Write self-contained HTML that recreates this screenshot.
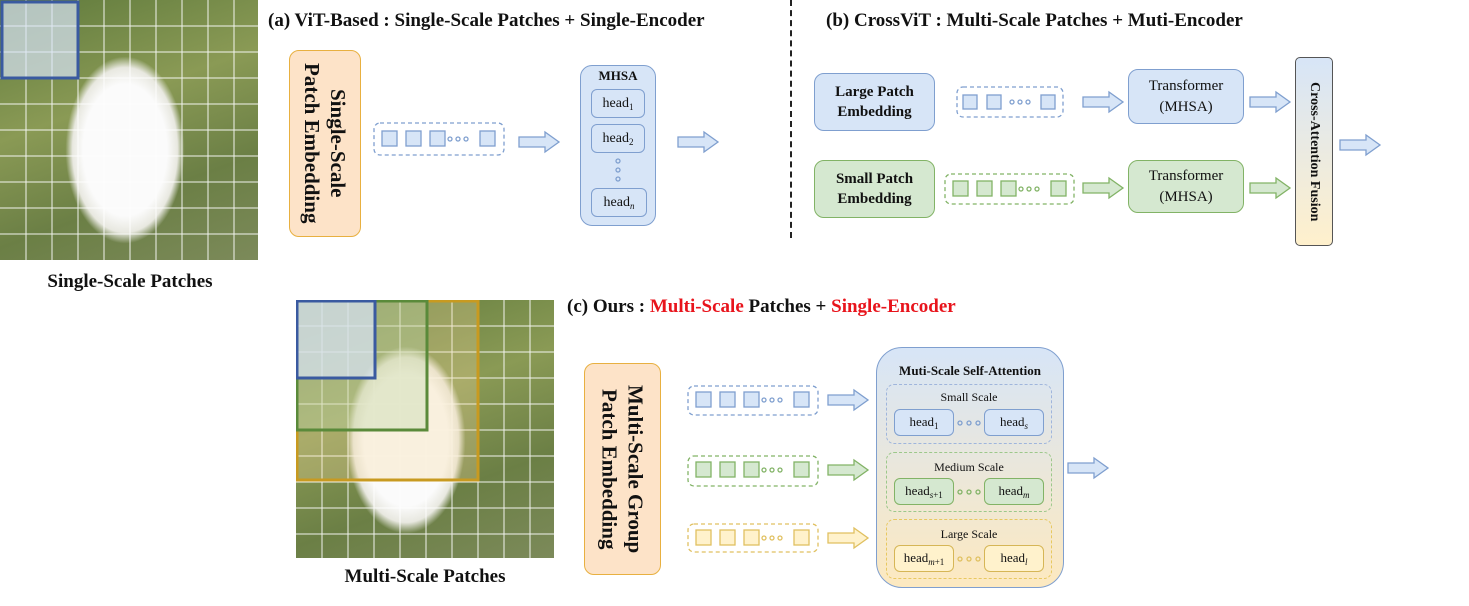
<!DOCTYPE html>
<html><head><meta charset="utf-8"><style>
body{margin:0;width:1469px;height:606px;background:#fff;position:relative;overflow:hidden;font-family:"Liberation Serif",serif;color:#111}
.a{position:absolute;box-sizing:border-box}
.t{font-weight:bold;font-size:19px;white-space:nowrap}
.bx{border-radius:10px;display:flex;align-items:center;justify-content:center;text-align:center}
.vt{writing-mode:vertical-rl;font-weight:bold;font-size:21px;line-height:26px}
.h{border-radius:6px;display:flex;align-items:center;justify-content:center;font-size:14px}
.h sub{font-size:9px;vertical-align:-3px}
.lab{font-size:12px;text-align:center}
</style></head><body>

<div class="a" style="left:0;top:0;width:258px;height:260px;background:radial-gradient(ellipse 70px 110px at 125px 150px,#fbfbfb 60%,#e8e8e0 75%,rgba(0,0,0,0) 85%),linear-gradient(160deg,#5f7a3c,#8a9a55 40%,#6b7f45 70%,#7c8a5a)"></div>
<svg class="a" style="left:0;top:0" width="258" height="260">
<g stroke="#fff" stroke-width="1" opacity=".9">
<path d="M26 0V260M52 0V260M78 0V260M104 0V260M130 0V260M156 0V260M182 0V260M208 0V260M234 0V260M0 26H258M0 52H258M0 78H258M0 104H258M0 130H258M0 156H258M0 182H258M0 208H258M0 234H258"/></g>
<rect x="2" y="2" width="76" height="76" fill="#d8e4f6" fill-opacity=".7" stroke="#3a5aa0" stroke-width="3"/>
</svg>
<div class="a t" style="left:0;width:260px;top:271px;text-align:center">Single-Scale Patches</div>

<div class="a" style="left:296px;top:300px;width:258px;height:258px;background:radial-gradient(ellipse 70px 110px at 110px 140px,#fbfbfb 60%,#e8e8e0 75%,rgba(0,0,0,0) 85%),linear-gradient(160deg,#5f7a3c,#8a9a55 40%,#6b7f45 70%,#7c8a5a)"></div>
<svg class="a" style="left:296px;top:300px" width="258" height="258">
<g stroke="#fff" stroke-width="1" opacity=".9">
<path d="M26 0V258M52 0V258M78 0V258M104 0V258M130 0V258M156 0V258M182 0V258M208 0V258M234 0V258M0 26H258M0 52H258M0 78H258M0 104H258M0 130H258M0 156H258M0 182H258M0 208H258M0 234H258"/></g>
<rect x="1" y="1" width="181" height="179" fill="#f5d89a" fill-opacity=".3" stroke="#c89a20" stroke-width="3"/>
<rect x="1" y="1" width="130" height="129" fill="#b9d8a8" fill-opacity=".35" stroke="#5a8a3a" stroke-width="3"/>
<rect x="1" y="1" width="78" height="77" fill="#d8e4f6" fill-opacity=".7" stroke="#3a5aa0" stroke-width="3"/>
</svg>
<div class="a t" style="left:296px;width:258px;top:566px;text-align:center">Multi-Scale Patches</div>

<div class="a t" style="left:268px;top:10px">(a) ViT-Based : Single-Scale Patches + Single-Encoder</div>
<div class="a t" style="left:826px;top:10px">(b) CrossViT : Multi-Scale Patches + Muti-Encoder</div>
<div class="a t" style="left:567px;top:296px">(c) Ours : <span style="color:#e8141c">Multi-Scale</span> Patches + <span style="color:#e8141c">Single-Encoder</span></div>
<div class="a" style="left:790px;top:0;height:238px;border-left:2px dashed #222"></div>

<div class="a bx" style="left:289px;top:50px;width:72px;height:187px;background:#fde3c8;border:1.5px solid #e8b040"><div class="vt">Single-Scale<br>Patch Embedding</div></div>
<div class="a bx" style="left:580px;top:65px;width:76px;height:161px;background:#d7e5f7;border:1.5px solid #7f9fcf;border-radius:12px"></div>
<div class="a" style="left:580px;top:68px;width:76px;text-align:center;font-weight:bold;font-size:13px">MHSA</div>
<div class="a h" style="left:591px;top:89px;width:54px;height:29px;border:1.5px solid #7f9fcf"><span>head<sub>1</sub></span></div>
<div class="a h" style="left:591px;top:124px;width:54px;height:29px;border:1.5px solid #7f9fcf"><span>head<sub>2</sub></span></div>
<div class="a h" style="left:591px;top:188px;width:56px;height:29px;border:1.5px solid #7f9fcf"><span>head<sub><i>n</i></sub></span></div>

<div class="a bx" style="left:814px;top:73px;width:121px;height:58px;background:#d7e5f7;border:1.5px solid #7f9fcf;font-weight:bold;font-size:15px;line-height:20px">Large Patch<br>Embedding</div>
<div class="a bx" style="left:814px;top:160px;width:121px;height:58px;background:#d5e8d0;border:1.5px solid #82b366;font-weight:bold;font-size:15px;line-height:20px">Small Patch<br>Embedding</div>
<div class="a bx" style="left:1128px;top:69px;width:116px;height:55px;background:#d7e5f7;border:1.5px solid #7f9fcf;font-size:15px;line-height:21px">Transformer<br>(MHSA)</div>
<div class="a bx" style="left:1128px;top:160px;width:116px;height:53px;background:#d5e8d0;border:1.5px solid #82b366;font-size:15px;line-height:21px">Transformer<br>(MHSA)</div>
<div class="a bx" style="left:1295px;top:57px;width:38px;height:189px;background:linear-gradient(#d7e5f7,#fff0cc);border:1.5px solid #555;border-radius:5px"><div class="vt" style="font-size:14px">Cross-Attention Fusion</div></div>

<div class="a bx" style="left:584px;top:363px;width:77px;height:212px;background:#fde3c8;border:1.5px solid #e8b040"><div class="vt">Multi-Scale Group<br>Patch Embedding</div></div>
<div class="a" style="left:876px;top:347px;width:188px;height:241px;background:linear-gradient(#d7e5f7,#fde9c0);border:1.5px solid #7f9fcf;border-radius:26px"></div>
<div class="a" style="left:876px;top:363px;width:188px;text-align:center;font-weight:bold;font-size:13px">Muti-Scale Self-Attention</div>
<div class="a" style="left:886px;top:384px;width:166px;height:60px;border:1.5px dashed #9fb5dc;border-radius:8px"></div>
<div class="a lab" style="left:886px;top:390px;width:166px">Small Scale</div>
<div class="a h" style="left:894px;top:409px;width:60px;height:27px;background:#d7e5f7;border:1.5px solid #7f9fcf;font-size:13px"><span>head<sub>1</sub></span></div>
<div class="a h" style="left:984px;top:409px;width:60px;height:27px;background:#d7e5f7;border:1.5px solid #7f9fcf;font-size:13px"><span>head<sub><i>s</i></sub></span></div>
<div class="a" style="left:886px;top:452px;width:166px;height:60px;border:1.5px dashed #9cc88a;border-radius:8px"></div>
<div class="a lab" style="left:886px;top:460px;width:166px">Medium Scale</div>
<div class="a h" style="left:894px;top:478px;width:60px;height:27px;background:#d5e8d0;border:1.5px solid #82b366;font-size:13px"><span>head<sub><i>s</i>+1</sub></span></div>
<div class="a h" style="left:984px;top:478px;width:60px;height:27px;background:#d5e8d0;border:1.5px solid #82b366;font-size:13px"><span>head<sub><i>m</i></sub></span></div>
<div class="a" style="left:886px;top:519px;width:166px;height:60px;border:1.5px dashed #e8c860;border-radius:8px"></div>
<div class="a lab" style="left:886px;top:527px;width:166px">Large Scale</div>
<div class="a h" style="left:894px;top:545px;width:60px;height:27px;background:#fff2cc;border:1.5px solid #d6b656;font-size:13px"><span>head<sub><i>m</i>+1</sub></span></div>
<div class="a h" style="left:984px;top:545px;width:60px;height:27px;background:#fff2cc;border:1.5px solid #d6b656;font-size:13px"><span>head<sub><i>l</i></sub></span></div>

<svg class="a" style="left:0;top:0" width="1469" height="606">
<defs>
<g id="tok"><rect x="8" y="7" width="15" height="15"/><rect x="32" y="7" width="15" height="15"/><rect x="56" y="7" width="15" height="15"/><circle cx="76" cy="15" r="2" fill="none"/><circle cx="84" cy="15" r="2" fill="none"/><circle cx="92" cy="15" r="2" fill="none"/><rect x="106" y="7" width="15" height="15"/></g>
<path id="ar" d="M0 -5H26V-10L40 0L26 10V5H0Z"/>
</defs>
<g fill="#d7e5f7" stroke="#7f9fcf" stroke-width="1.3">
<rect x="374" y="123" width="130" height="32" rx="6" fill="none" stroke-dasharray="4 3"/>
<use href="#tok" x="374" y="124"/>
<use href="#ar" x="519" y="142"/><use href="#ar" x="678" y="142"/>
<circle cx="618" cy="161" r="2" fill="none"/><circle cx="618" cy="170" r="2" fill="none"/><circle cx="618" cy="179" r="2" fill="none"/>
<rect x="957" y="87" width="106" height="30" rx="6" fill="none" stroke-dasharray="4 3"/>
<rect x="963" y="95" width="14" height="14"/><rect x="987" y="95" width="14" height="14"/><circle cx="1012" cy="102" r="2" fill="none"/><circle cx="1020" cy="102" r="2" fill="none"/><circle cx="1028" cy="102" r="2" fill="none"/><rect x="1041" y="95" width="14" height="14"/>
<use href="#ar" x="1083" y="102"/><use href="#ar" x="1250" y="102"/><use href="#ar" x="1340" y="145"/>
<rect x="688" y="386" width="130" height="29" rx="6" fill="none" stroke-dasharray="4 3"/>
<use href="#tok" x="688" y="385"/>
<use href="#ar" x="828" y="400"/><use href="#ar" x="1068" y="468"/>
<circle cx="960" cy="423" r="2" fill="none"/><circle cx="969" cy="423" r="2" fill="none"/><circle cx="978" cy="423" r="2" fill="none"/>
</g>
<g fill="#d5e8d0" stroke="#82b366" stroke-width="1.3">
<rect x="945" y="174" width="129" height="30" rx="6" fill="none" stroke-dasharray="4 3"/>
<use href="#tok" x="945" y="174"/>
<use href="#ar" x="1083" y="188"/><use href="#ar" x="1250" y="188"/>
<rect x="688" y="456" width="130" height="30" rx="6" fill="none" stroke-dasharray="4 3"/>
<use href="#tok" x="688" y="455"/>
<use href="#ar" x="828" y="470"/>
<circle cx="960" cy="492" r="2" fill="none"/><circle cx="969" cy="492" r="2" fill="none"/><circle cx="978" cy="492" r="2" fill="none"/>
</g>
<g fill="#fff2cc" stroke="#e0c060" stroke-width="1.3">
<rect x="688" y="524" width="130" height="28" rx="6" fill="none" stroke-dasharray="4 3"/>
<use href="#tok" x="688" y="523"/>
<use href="#ar" x="828" y="538"/>
<circle cx="960" cy="559" r="2" fill="none"/><circle cx="969" cy="559" r="2" fill="none"/><circle cx="978" cy="559" r="2" fill="none"/>
</g>
</svg>
</body></html>
